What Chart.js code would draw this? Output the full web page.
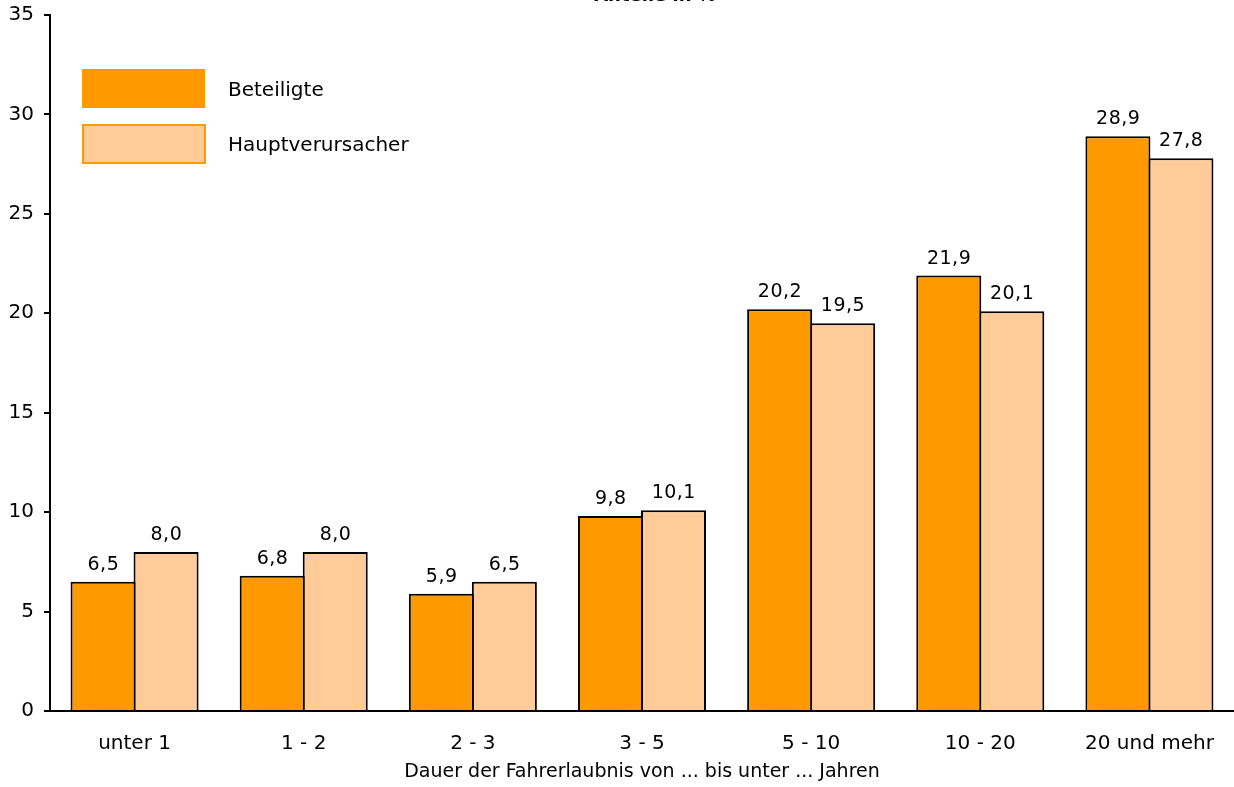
<!DOCTYPE html>
<html>
<head>
<meta charset="utf-8">
<script src="https://cdn.jsdelivr.net/npm/chart.js@4/dist/chart.umd.min.js"></script>
<style>
  html, body { margin: 0; padding: 0; background: #fff; }
  #wrap { width: 1234px; height: 787px; }
</style>
</head>
<body>
<div id="wrap"><canvas id="chart"></canvas></div>
<script>
const categories = ['unter 1', '1 - 2', '2 - 3', '3 - 5', '5 - 10', '10 - 20', '20 und mehr']
const beteiligte = [6.5, 6.8, 5.9, 9.8, 20.2, 21.9, 28.9]
const hauptverursacher = [8.0, 8.0, 6.5, 10.1, 19.5, 20.1, 27.8]
const yTicks = [0, 5, 10, 15, 20, 25, 30, 35]
const xTitle = 'Dauer der Fahrerlaubnis von ... bis unter ... Jahren'
const topTitle = 'Anteile in %'

const fontFam = '"DejaVu Sans", "Noto Sans", sans-serif'

// value labels above bars, with decimal comma
const valueLabels = {
    id: 'valueLabels',
    afterDatasetsDraw(chart) {
        const ctx = chart.ctx
        ctx.save()
        ctx.font = '19px ' + fontFam
        ctx.letterSpacing = '0.5px'
        ctx.fillStyle = '#000'
        ctx.textAlign = 'center'
        ctx.textBaseline = 'alphabetic'
        chart.data.datasets.forEach((ds, i) => {
            chart.getDatasetMeta(i).data.forEach((bar, j) => {
                const txt = ds.data[j].toFixed(1).replace('.', ',')
                ctx.fillText(txt, bar.x + 0.3, bar.y - 12)
            })
        })
        ctx.restore()
    }
}

// legend boxes in the upper left + cut-off title
const extras = {
    id: 'extras',
    afterDraw(chart) {
        const ctx = chart.ctx
        ctx.save()
        const ds = chart.data.datasets
        ctx.fillStyle = ds[0].backgroundColor
        ctx.fillRect(82, 69, 123, 39)
        ctx.fillStyle = ds[1].backgroundColor
        ctx.fillRect(83, 125, 122, 38)
        ctx.strokeStyle = '#ff9900'
        ctx.lineWidth = 2
        ctx.strokeRect(83, 125, 122, 38)
        ctx.fillStyle = '#000'
        ctx.font = '20px ' + fontFam
        ctx.textBaseline = 'middle'
        ctx.fillText(ds[0].label, 228, 91)
        ctx.fillText(ds[1].label, 228, 146)
        ctx.font = 'bold 18px ' + fontFam
        ctx.textAlign = 'center'
        ctx.textBaseline = 'alphabetic'
        ctx.fillText(topTitle, 655, 1)
        ctx.restore()
    }
}

Chart.defaults.font.family = fontFam
Chart.defaults.font.size = 20
Chart.defaults.color = '#000'

new Chart(document.getElementById('chart').getContext('2d'), {
    type: 'bar',
    data: {
        labels: categories,
        datasets: [{
            label: 'Beteiligte',
            data: beteiligte,
            backgroundColor: '#ff9900',
            borderColor: '#000',
            borderWidth: 2,
            borderSkipped: 'bottom'
        }, {
            label: 'Hauptverursacher',
            data: hauptverursacher,
            backgroundColor: '#ffcc99',
            borderColor: '#000',
            borderWidth: 2,
            borderSkipped: 'bottom'
        }]
    },
    options: {
        responsive: true,
        maintainAspectRatio: false,
        animation: false,
        layout: { padding: { top: 15, right: 0, left: 0, bottom: 0 } },
        datasets: {
            bar: { categoryPercentage: 0.745, barPercentage: 1.032 }
        },
        plugins: {
            legend: { display: false },
            tooltip: { enabled: false }
        },
        scales: {
            x: {
                grid: { display: false, drawTicks: false },
                border: { color: '#000', width: 2 },
                ticks: { padding: 21, font: { size: 20 } },
                title: { display: true, text: xTitle, padding: { top: 3 }, font: { size: 19 } },
                afterFit(scale) {
                    scale.height = 76
                    scale.paddingLeft = 0
                    scale.paddingRight = 0
                }
            },
            y: {
                min: 0,
                max: 35,
                afterBuildTicks(scale) { scale.ticks = yTicks.map(v => ({ value: v })) },
                grid: { display: true, drawOnChartArea: false, drawTicks: true, tickLength: 6, color: '#000', lineWidth: 2 },
                border: { color: '#000', width: 2 },
                ticks: { padding: 10, font: { size: 20 } },
                afterFit(scale) {
                    scale.width = 50
                    scale.paddingTop = 0
                    scale.paddingBottom = 0
                }
            }
        }
    },
    plugins: [valueLabels, extras]
})
</script>
</body>
</html>
